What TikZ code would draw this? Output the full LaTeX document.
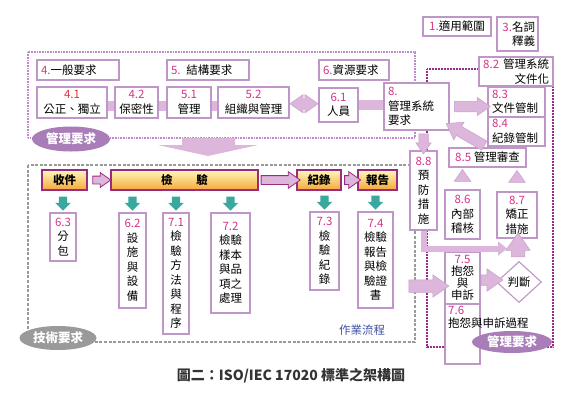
\documentclass[tikz,border=0pt]{standalone}
\usepackage{fontspec}
\setmainfont{Noto Sans CJK TC}
\usetikzlibrary{shapes.arrows,shapes.geometric,calc,arrows.meta}

\definecolor{boxline}{HTML}{BE96C8}
\definecolor{numpink}{HTML}{D6338A}
\definecolor{numred}{HTML}{E0303A}
\definecolor{arrowfill}{HTML}{DDB6DC}
\definecolor{arrowline}{HTML}{C79FCA}
\definecolor{mgmtline}{HTML}{BE8CCB}
\definecolor{deepmag}{HTML}{9A2A8A}
\definecolor{ellpurple}{HTML}{A97DB8}
\definecolor{tealarrow}{HTML}{3BA8A0}
\definecolor{yelltop}{HTML}{FFF8B8}
\definecolor{yellmid}{HTML}{FFD84A}
\definecolor{yellbot}{HTML}{F5A83A}
\definecolor{yellline}{HTML}{9C2A7E}
\definecolor{techgray}{HTML}{9A9A9A}
\definecolor{flowblue}{HTML}{3F4FA0}

\newcommand{\secno}[1]{\textcolor{numpink}{#1}}

\tikzset{
	box/.style={draw=boxline, line width=1.1pt, fill=white, inner sep=0pt, align=center, font=\fontsize{11.5}{14.5}\selectfont},
	lbox/.style={box, align=left, inner xsep=4pt},
	proc/.style={draw=yellline, line width=1.2pt, top color=yelltop, middle color=yellmid, bottom color=yellbot, inner sep=0pt, font=\bfseries\fontsize{11.5}{14}\selectfont},
	tag/.style={ellipse, inner sep=0pt, text=white, font=\bfseries\fontsize{12.5}{14}\selectfont},
	fat/.style n args={4}{single arrow, draw=arrowline, fill=arrowfill, line width=0.5pt, inner xsep=0pt, inner ysep=#3, minimum height=#1, minimum width=0pt, single arrow head extend={#2/2-#3}, single arrow tip angle=70, rotate=#4},
	dfat/.style n args={3}{double arrow, draw=arrowline, fill=arrowfill, line width=0.5pt, inner xsep=0pt, inner ysep=#3, minimum height=#1, minimum width=0pt, double arrow head extend={#2/2-#3}, double arrow tip angle=70},
	stagearrow/.style n args={3}{fat={#1}{#2}{#3}{0}, draw=yellline, line width=0.8pt},
	tealdown/.style={single arrow, fill=tealarrow, inner xsep=0pt, inner ysep=4pt, minimum height=14, minimum width=0pt, single arrow head extend=3.5pt, single arrow tip angle=90, rotate=-90},
	bar/.style={draw=arrowfill, line width=10pt, shorten <=0.6pt, shorten >=0.6pt},
	band/.style={draw=arrowfill, line width=6pt, -{Triangle[width=14pt,length=9pt]}},
}

\begin{document}
\begin{tikzpicture}[x=1pt, y=-1pt]
	\useasboundingbox (0,0) rectangle (580,400);

	% Frames
	\draw[mgmtline, line width=2.2pt, dash pattern=on 1pt off 0.6pt] (28,52) rectangle (415,138);
	\draw[techgray, line width=2pt, dash pattern=on 3pt off 1.6pt] (28,165) rectangle (415,342);
	\draw[deepmag, line width=2pt, dash pattern=on 1pt off 0.5pt] (427,69) rectangle (553,347);
	\fill[arrowfill] (182,138) -- (235,138) -- (235,145) -- (258,145) -- (208,156) -- (158,145) -- (182,145) -- cycle;

	% Clauses 1 and 3
	\node[box, minimum width=68, minimum height=19] (c1) at (457,26.5) {\secno{1.}適用範圍};
	\node[box, align=right, text width=35, inner xsep=3pt, minimum height=34] (c3) at (517.5,34) {\secno{3.}名詞\\釋義};

	% Management requirements, clauses 4 to 6
	\node[lbox, text width=74, minimum height=20] (c4) at (78,70) {\secno{4.}一般要求};
	\node[lbox, text width=74, minimum height=20] (c5) at (208,70) {\secno{5.} 結構要求};
	\node[lbox, text width=62, minimum height=20] (c6) at (354,70) {\secno{6.}資源要求};
	\node[box, minimum width=70, minimum height=31] (c41) at (72,102.5) {\textcolor{numred}{4.1}\\公正、獨立};
	\node[box, minimum width=43, minimum height=31] (c42) at (136.5,102.5) {\secno{4.2}\\保密性};
	\node[box, minimum width=44, minimum height=31] (c51) at (189,102.5) {\secno{5.1}\\管理};
	\node[box, minimum width=71, minimum height=31] (c52) at (253.5,102.5) {\secno{5.2}\\組織與管理};
	\node[box, minimum width=39, minimum height=34] (c61) at (338.5,105) {\secno{6.1}\\人員};

	% Management system, clause 8
	\node[lbox, text width=57, minimum height=47] (c8) at (416.5,106.5) {\secno{8.}\\管理系統\\要求};
	\node[box, align=right, text width=66, inner xsep=4pt, minimum height=29] (c82) at (516,71.5) {\secno{8.2} 管理系統\\文件化};
	\node[lbox, text width=49, minimum height=30] (c83) at (516.5,102) {\secno{8.3}\\文件管制};
	\node[lbox, text width=49, minimum height=29] (c84) at (516.5,131.5) {\secno{8.4}\\紀錄管制};
	\node[box, minimum width=77, minimum height=19] (c85) at (487.5,157.5) {\secno{8.5} 管理審查};
	\node[box, minimum width=35, minimum height=49] (c86) at (462.5,214.5) {\secno{8.6}\\內部\\稽核};
	\node[box, minimum width=40, minimum height=46] (c87) at (517,215) {\secno{8.7}\\矯正\\措施};
	\node[box, minimum width=27, minimum height=79] (c88) at (423.5,190.5) {\secno{8.8}\\預\\防\\措\\施};
	\node[box, minimum width=35, minimum height=52, font=\fontsize{11.5}{11.8}\selectfont] (c75) at (462.5,278) {\secno{7.5}\\抱怨\\與\\申訴};
	\node[box, minimum width=35, minimum height=60] (c76) at (462.5,334) {};
	\node[anchor=north west, align=left, inner sep=0pt, font=\fontsize{11.5}{12.5}\selectfont] (c76t) at (448,306) {\secno{7.6}\\抱怨與申訴過程};
	\node[diamond, draw=boxline, line width=1.1pt, fill=white, inner sep=0pt, minimum width=45, minimum height=41, font=\fontsize{11.5}{14}\selectfont] (judge) at (519,282) {判斷};

	% Inspection flow
	\node[proc, minimum width=45, minimum height=20] (recv) at (64.5,180) {收件};
	\node[proc, minimum width=147, minimum height=20] (insp) at (184.5,180) {檢\hspace{24pt}驗};
	\node[proc, minimum width=44, minimum height=20] (rec) at (319,180) {紀錄};
	\node[proc, minimum width=39, minimum height=20] (rep) at (377.5,180) {報告};

	% Technical requirements, clauses 6 and 7
	\node[box, minimum width=26, minimum height=48] (c63) at (63,237) {\secno{6.3}\\分\\包};
	\node[box, minimum width=27, minimum height=95] (c62) at (132.5,260.5) {\secno{6.2}\\設\\施\\與\\設\\備};
	\node[box, minimum width=26, minimum height=121] (c71) at (176,273.5) {\secno{7.1}\\檢\\驗\\方\\法\\與\\程\\序};
	\node[box, minimum width=39, minimum height=100] (c72) at (230.5,263) {\secno{7.2}\\檢驗\\樣本\\與品\\項之\\處理};
	\node[box, minimum width=29, minimum height=78] (c73) at (324.5,251) {\secno{7.3}\\檢\\驗\\紀\\錄};
	\node[box, minimum width=35, minimum height=96] (c74) at (375.5,260) {\secno{7.4}\\檢驗\\報告\\與檢\\驗證\\書};

	% Arrows
	\draw[bar] ([yshift=-3pt]c41.east) -- ([yshift=-3pt]c42.west);
	\draw[bar] ([yshift=-3pt]c42.east) -- ([yshift=-3pt]c51.west);
	\draw[bar] ([yshift=-3pt]c51.east) -- ([yshift=-3pt]c52.west);
	\draw[bar] (c61.east) -- (c61.east -| c8.west);
	\node[dfat={28}{18}{4.5}] (a52) at ($(c52.east)!.5!(c61.west)$) {};
	\node[fat={36}{18}{5}{0}] (a83) at ($(c8.east)!.5!(c8.east -| c83.west)$) {};
	\node[fat={44}{20}{5}{150}] (a85) at ($(c85.north)!.5!([yshift=5pt]c8.south east)$) {};
	\node[fat={20}{15}{4.5}{-90}] (a88) at ([yshift=10pt]c88.north) {};
	\node[fat={12}{16}{4}{90}] (a86) at ($(c86.north)!.5!(c86.north |- c85.south)$) {};
	\node[fat={12}{16}{4}{90}] (a87) at ($(c87.north)!.5!(c87.north |- c85.south)$) {};
	\coordinate (bandend) at ($(c87.south)+(-10,10)$);
	\draw[band] (c88.south) |- (bandend);
	\node[fat={24}{24}{6.5}{90}] (aj) at ($(judge.north)!.5!(c87.south)$) {};
	\node[fat={22}{22}{5}{0}] (a75) at ($(c75.east)!.5!(judge.west)$) {};
	\node[fat={40}{22}{6}{0}] (ain) at ($(c75.west)+(-20,8)$) {};
	\node[stagearrow={18}{14}{3.5}] (s1) at ($(recv.east)!.5!(insp.west)$) {};
	\node[stagearrow={39}{16}{4}] (s2) at ($(insp.east)!.5!(rec.west)$) {};
	\node[stagearrow={16}{16}{4}] (s3) at ($(rec.east)!.5!(rep.west)$) {};
	\foreach \b in {c63,c62,c71,c72,c73,c74}
		\node[tealdown] (t\b) at ([yshift=11pt]\b.north) {};

	% Labels
	\node[tag, fill=ellpurple, minimum width=78, minimum height=25] (tagm1) at (71,139) {管理要求};
	\node[tag, fill=techgray, minimum width=77, minimum height=24] (tagt) at (58,338) {技術要求};
	\node[tag, fill=ellpurple, minimum width=80, minimum height=22] (tagm2) at (512,342) {管理要求};
	\node[text=flowblue, font=\fontsize{11.5}{14}\selectfont] (flow) at (362,330) {作業流程};
	\node[text=black!80, font=\bfseries\fontsize{14}{16}\selectfont] (caption) at (291,376) {圖二：ISO/IEC 17020 標準之架構圖};
\end{tikzpicture}
\end{document}
